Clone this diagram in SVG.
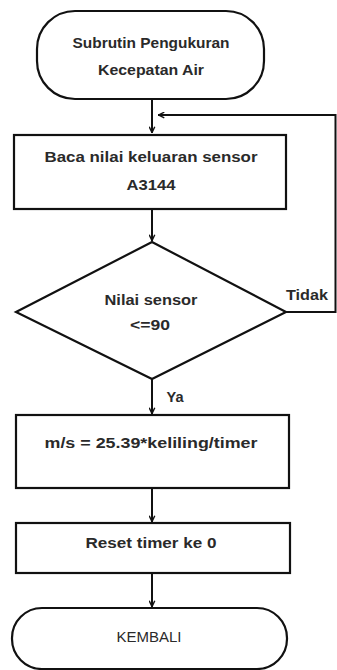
<svg xmlns="http://www.w3.org/2000/svg" width="337" height="670" viewBox="0 0 337 670">
<defs>
<style>
.s{fill:#fff;stroke:#111;stroke-width:2.2}
.c{fill:none;stroke:#111;stroke-width:2}
.t{font-family:"Liberation Sans",Arial,sans-serif;font-weight:bold;font-size:14px;fill:#2a2a2a;text-anchor:middle}
.n{font-family:"Liberation Sans",Arial,sans-serif;font-size:14px;fill:#2a2a2a;text-anchor:middle}
</style>
<marker id="ah" viewBox="0 0 10 10" refX="10" refY="5" markerWidth="7" markerHeight="7" orient="auto" markerUnits="userSpaceOnUse">
<path d="M1,1 L9.5,5 L1,9" fill="none" stroke="#111" stroke-width="2"/>
</marker>
</defs>
<rect width="337" height="670" fill="#fff"/>
<g id="connectors">
<path class="c" d="M152,99 V133" marker-end="url(#ah)"/>
<path class="c" d="M286,312 H335.5 V115 H158" marker-end="url(#ah)"/>
<path class="c" d="M152,209 V241" marker-end="url(#ah)"/>
<path class="c" d="M152,379 V414" marker-end="url(#ah)"/>
<path class="c" d="M152,488 V522" marker-end="url(#ah)"/>
<path class="c" d="M152,573 V607" marker-end="url(#ah)"/>
</g>
<g id="start">
<rect class="s" x="37" y="11" width="227" height="88" rx="38" ry="38"/>
<text class="t" x="151" y="48" textLength="157" lengthAdjust="spacingAndGlyphs">Subrutin Pengukuran</text>
<text class="t" x="151" y="75" textLength="106" lengthAdjust="spacingAndGlyphs">Kecepatan Air</text>
</g>
<g id="read">
<rect class="s" x="14" y="135" width="272" height="74"/>
<text class="t" x="151" y="162" textLength="213" lengthAdjust="spacingAndGlyphs">Baca nilai keluaran sensor</text>
<text class="t" x="151" y="190" textLength="49" lengthAdjust="spacingAndGlyphs">A3144</text>
</g>
<g id="decision">
<polygon class="s" points="152,242 286,312 152,379 16,312"/>
<text class="t" x="151" y="305" textLength="93" lengthAdjust="spacingAndGlyphs">Nilai sensor</text>
<text class="t" x="150" y="330" textLength="40" lengthAdjust="spacingAndGlyphs">&lt;=90</text>
<text class="t" x="307" y="300" textLength="42" lengthAdjust="spacingAndGlyphs">Tidak</text>
<text class="t" x="175" y="402" textLength="17" lengthAdjust="spacingAndGlyphs">Ya</text>
</g>
<g id="calc">
<rect class="s" x="16" y="415" width="273" height="73"/>
<text class="t" x="151" y="448" textLength="213" lengthAdjust="spacingAndGlyphs">m/s = 25.39*keliling/timer</text>
</g>
<g id="reset">
<rect class="s" x="16" y="523" width="274" height="50"/>
<text class="t" x="151" y="548" textLength="131" lengthAdjust="spacingAndGlyphs">Reset timer ke 0</text>
</g>
<g id="end">
<rect class="s" x="12" y="608" width="275" height="61" rx="30" ry="30"/>
<text class="n" x="149" y="642" textLength="65" lengthAdjust="spacingAndGlyphs">KEMBALI</text>
</g>
</svg>
